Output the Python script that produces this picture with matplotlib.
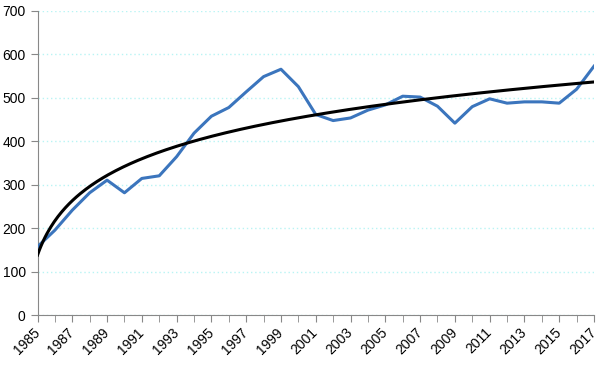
import numpy as np
import matplotlib.pyplot as plt

# data
years = np.arange(1985, 2018)
values = [157, 195, 241, 281, 310, 281, 314, 320, 364, 418,
          457, 477, 513, 548, 565, 525, 461, 447, 453, 471,
          483, 503, 501, 480, 441, 479, 497, 487, 490, 490,
          487, 519, 572]
y_ticks = [0, 100, 200, 300, 400, 500, 600, 700]

plt.rcParams['font.family'] = ['Liberation Sans', 'DejaVu Sans']

# logarithmic trend fitted to the series
t = years - years[0] + 1
b, a = np.polyfit(np.log(t), values, 1)
t_fine = np.linspace(1, t[-1], 300)
trend = a + b * np.log(t_fine)

fig = plt.figure(figsize=(6, 3.7), dpi=100)
ax = fig.add_axes([0.0625, 0.1486, 0.9275, 0.823])

ax.plot(years, values, color='#3b75bd', linewidth=2.2, zorder=3)
ax.plot(t_fine + years[0] - 1, trend, color='black', linewidth=2.2, zorder=4)

ax.set_xlim(1985, 2017)
ax.set_ylim(0, 700)
ax.set_yticks(y_ticks)
ax.set_xticks(years[::2])
ax.set_xticks(years, minor=True)
ax.set_xticklabels([str(y) for y in years[::2]], rotation=45, ha='right',
                   va='center', rotation_mode='anchor')

ax.grid(axis='y', color='#b8f4f4', linestyle=(0, (1, 2)), linewidth=1)
ax.set_axisbelow(True)

for s in ['top', 'right']:
    ax.spines[s].set_visible(False)
for s in ['left', 'bottom']:
    ax.spines[s].set_color('#888888')
ax.tick_params(axis='both', which='both', color='#888888', length=5,
               labelsize=10, labelcolor='black')
ax.tick_params(axis='x', pad=6)

fig.savefig('out.png', dpi=100)
